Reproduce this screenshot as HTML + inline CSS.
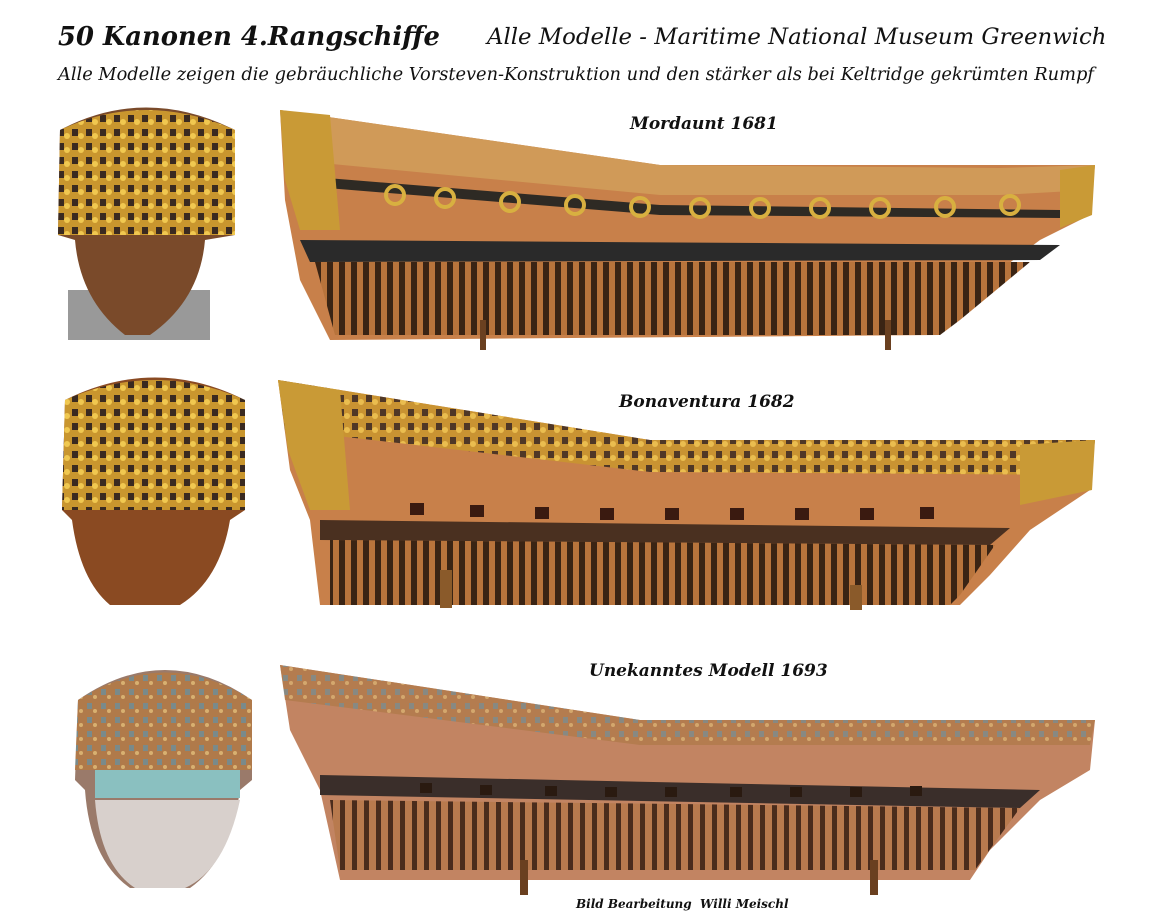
<!DOCTYPE html>
<html><head><meta charset="utf-8"><style>
body{margin:0;width:1150px;height:913px;background:#fff;position:relative;overflow:hidden;font-family:"DejaVu Serif","Liberation Serif",serif}
.t{position:absolute;white-space:nowrap;font-style:italic;color:#111}
svg{position:absolute;left:0;top:0}
</style></head><body>
<svg width="1150" height="913" viewBox="0 0 1150 913">
<defs>
<pattern id="fr" width="12" height="40" patternUnits="userSpaceOnUse"><rect width="12" height="40" fill="#b8743c"/><rect x="3" width="6" height="40" fill="#3a2414"/></pattern>
<pattern id="fr3" width="12" height="40" patternUnits="userSpaceOnUse"><rect width="12" height="40" fill="#b87a4e"/><rect x="4" width="5" height="40" fill="#4a2c1c"/></pattern>
<pattern id="gold" width="14" height="14" patternUnits="userSpaceOnUse"><rect width="14" height="14" fill="#c9962e"/><rect x="2" y="3" width="6" height="7" fill="#3a2a20"/><circle cx="11" cy="10" r="3" fill="#f0c850"/></pattern>
<pattern id="gold3" width="14" height="14" patternUnits="userSpaceOnUse"><rect width="14" height="14" fill="#b07a4a"/><rect x="3" y="3" width="5" height="6" fill="#7a8a8a"/><circle cx="11" cy="11" r="2" fill="#d8b070"/></pattern>
</defs>
<g>
<path d="M280 110 L660 165 L1000 165 L1095 165 L1090 215 L1040 240 L1000 270 L960 315 L940 335 L330 340 L300 280 L285 200 Z" fill="#c8804a"/>
<path d="M300 240 L1060 245 L1040 260 L310 262 Z" fill="#2a2a2a"/>
<path d="M315 262 L1030 262 L960 320 L940 335 L335 335 Z" fill="url(#fr)"/>
<path d="M280 110 L660 165 L1000 168 L1095 165 L1090 190 L1000 195 L660 195 L290 160 Z" fill="#d09a58"/>
<path d="M290 175 L660 205 L1060 210 L1060 218 L660 215 L290 185 Z" fill="#2e2a24"/>
<path d="M280 110 L330 115 L340 230 L300 230 L285 180 Z" fill="#c99a36"/>
<path d="M1060 170 L1095 165 L1092 215 L1060 228 Z" fill="#c99a36"/>
<g fill="none" stroke="#d8b040" stroke-width="4">
<circle cx="395" cy="195" r="9"/><circle cx="445" cy="198" r="9"/><circle cx="510" cy="202" r="9"/><circle cx="575" cy="205" r="9"/><circle cx="640" cy="207" r="9"/><circle cx="700" cy="208" r="9"/><circle cx="760" cy="208" r="9"/><circle cx="820" cy="208" r="9"/><circle cx="880" cy="208" r="9"/><circle cx="945" cy="207" r="9"/><circle cx="1010" cy="205" r="9"/>
</g>
<rect x="480" y="320" width="6" height="30" fill="#6a4020"/><rect x="885" y="320" width="6" height="30" fill="#6a4020"/>
</g>
<rect x="68" y="290" width="142" height="50" fill="#999"/>
<path d="M60 130 Q145 85 235 130 L235 235 L205 240 Q200 300 150 335 L125 335 Q80 300 75 240 L58 235 Z" fill="#7a4a2a"/>
<path d="M60 130 Q145 90 235 130 L235 235 L58 235 Z" fill="url(#gold)"/>
<g>
<path d="M278 380 L650 440 L1000 440 L1095 440 L1090 490 L1030 530 L990 575 L960 605 L320 605 L310 520 L290 470 Z" fill="#c8804a"/>
<path d="M278 380 L650 440 L1095 440 L1090 475 L650 472 L285 430 Z" fill="url(#gold)" opacity=".85"/>
<path d="M320 520 L1010 528 L990 545 L320 540 Z" fill="#4a3020"/>
<path d="M330 540 L995 545 L960 595 L950 605 L330 605 Z" fill="url(#fr)"/>
<path d="M278 380 L340 390 L350 510 L310 510 L288 450 Z" fill="#c99a36"/>
<path d="M1020 445 L1095 440 L1092 490 L1020 505 Z" fill="#c99a36"/>
<g fill="#3a1a10"><rect x="410" y="503" width="14" height="12"/><rect x="470" y="505" width="14" height="12"/><rect x="535" y="507" width="14" height="12"/><rect x="600" y="508" width="14" height="12"/><rect x="665" y="508" width="14" height="12"/><rect x="730" y="508" width="14" height="12"/><rect x="795" y="508" width="14" height="12"/><rect x="860" y="508" width="14" height="12"/><rect x="920" y="507" width="14" height="12"/></g>
<rect x="440" y="570" width="12" height="38" fill="#8a5a2a"/><rect x="850" y="585" width="12" height="25" fill="#8a5a2a"/>
</g>
<path d="M65 400 Q155 355 245 400 L245 510 L230 520 Q220 580 180 605 L110 605 Q80 580 72 520 L62 510 Z" fill="#8a4a22"/>
<path d="M65 400 Q155 360 245 400 L245 510 L62 510 Z" fill="url(#gold)"/>
<g>
<path d="M280 665 L640 720 L1020 720 L1095 720 L1090 770 L1040 800 L990 850 L970 880 L340 880 L320 790 L290 730 Z" fill="#c28462"/>
<path d="M280 665 L640 720 L1095 720 L1090 745 L640 745 L285 700 Z" fill="url(#gold3)" opacity=".8"/>
<path d="M320 775 L1040 790 L1020 808 L320 795 Z" fill="#3a2e2a"/>
<path d="M330 800 L1020 808 L975 870 L340 870 Z" fill="url(#fr3)"/>
<g fill="#2a1a10"><rect x="420" y="783" width="12" height="10"/><rect x="480" y="785" width="12" height="10"/><rect x="545" y="786" width="12" height="10"/><rect x="605" y="787" width="12" height="10"/><rect x="665" y="787" width="12" height="10"/><rect x="730" y="787" width="12" height="10"/><rect x="790" y="787" width="12" height="10"/><rect x="850" y="787" width="12" height="10"/><rect x="910" y="786" width="12" height="10"/></g>
<rect x="520" y="860" width="8" height="35" fill="#6a4020"/><rect x="870" y="860" width="8" height="35" fill="#6a4020"/>
</g>
<path d="M78 700 Q165 640 252 700 L252 780 L240 790 Q230 860 190 888 L130 888 Q90 860 85 790 L75 780 Z" fill="#9a7a6a"/>
<path d="M78 700 Q165 645 252 700 L252 770 L75 770 Z" fill="url(#gold3)"/>
<rect x="95" y="770" width="145" height="28" fill="#8ac0c0"/>
<path d="M95 800 L240 800 Q225 870 185 888 L135 888 Q100 865 95 800 Z" fill="#d8d0cc"/>
</svg>
<div class="t" style="left:58px;top:22px;font-size:25.8px;font-weight:bold">50 Kanonen 4.Rangschiffe</div>
<div class="t" style="left:487px;top:24px;font-size:22.8px">Alle Modelle - Maritime National Museum Greenwich</div>
<div class="t" style="left:58px;top:64px;font-size:17.8px">Alle Modelle zeigen die gebräuchliche Vorsteven-Konstruktion und den stärker als bei Keltridge gekrümten Rumpf</div>
<div class="t" style="left:630px;top:114px;font-size:17px;font-weight:bold">Mordaunt 1681</div>
<div class="t" style="left:619px;top:392px;font-size:17px;font-weight:bold">Bonaventura 1682</div>
<div class="t" style="left:589px;top:661px;font-size:17px;font-weight:bold">Unekanntes Modell 1693</div>
<div class="t" style="left:576px;top:897px;font-size:12px;font-weight:bold">Bild Bearbeitung&nbsp; Willi Meischl</div>
</body></html>
